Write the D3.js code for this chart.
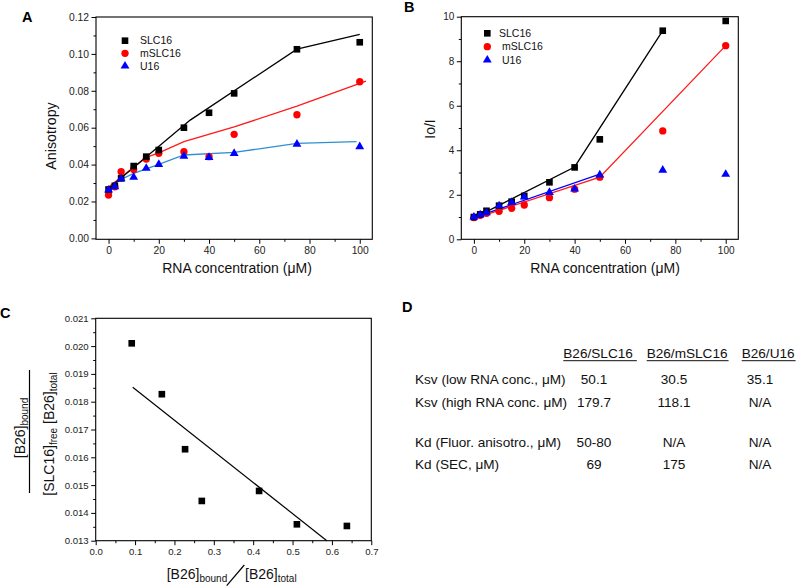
<!DOCTYPE html>
<html><head><meta charset="utf-8">
<script src="https://cdn.jsdelivr.net/npm/d3@7"></script>
<style>body{margin:0;background:#fff}svg{font-family:"Liberation Sans",Arial,Helvetica,sans-serif}</style>
</head><body><svg id="c" width="796" height="587"></svg>
<script>
// ---------- DATA ----------
const concentrations = [0, 2.5, 5, 10, 15, 20, 30, 40, 50, 75, 100];
const seriesNames = ["SLC16", "mSLC16", "U16"];
const seriesColors = ["#000000", "#ff0000", "#0000ff"];
const seriesShapes = ["square", "circle", "triangle"];

// Panel A: anisotropy
const anisoSLC16  = [0.0265, 0.0285, 0.0325, 0.0392, 0.0443, 0.0479, 0.0600, 0.0681, 0.0786, 0.1025, 0.1063];
const anisoMSLC16 = [0.0235, 0.0280, 0.0361, 0.0374, 0.0430, 0.0461, 0.0470, 0.0443, 0.0564, 0.0670, 0.0849];
const anisoU16    = [0.0262, 0.0280, 0.0323, 0.0331, 0.0380, 0.0401, 0.0446, 0.0439, 0.0461, 0.0511, 0.0497];
const fitA_SLC16_x  = [0, 32.5, 75, 100];
const fitA_SLC16_y  = [0.0271, 0.0641, 0.1026, 0.1106];
const fitA_MSLC16_x = [0, 15, 20, 30, 50, 75, 102.5];
const fitA_MSLC16_y = [0.0278, 0.0439, 0.0464, 0.0524, 0.0604, 0.0717, 0.0853];
const fitA_U16_x    = [0, 5, 10, 20, 30, 50, 75, 98.7];
const fitA_U16_y    = [0.0271, 0.0320, 0.0352, 0.0401, 0.0452, 0.0466, 0.0515, 0.0524];

// Panel B: Io/I
const ioSLC16  = [1.00, 1.12, 1.28, 1.51, 1.69, 1.95, 2.56, 3.23, 4.49, 9.37, 9.81];
const ioMSLC16 = [0.98, 1.08, 1.17, 1.26, 1.39, 1.54, 1.87, 2.25, 2.79, 4.87, 8.70];
const ioU16    = [1.00, 1.10, 1.20, 1.50, 1.66, 1.90, 2.11, 2.26, 2.89, 3.11, 2.92];
const fitB_SLC16_x  = [2.5, 40, 75];
const fitB_SLC16_y  = [1.10, 3.25, 9.37];
const fitB_MSLC16_x = [0, 50, 100];
const fitB_MSLC16_y = [0.93, 2.79, 8.70];
const fitB_U16_x    = [0, 50];
const fitB_U16_y    = [0.97, 2.93];

// Panel C: Scatchard
const scatX = [0.0915, 0.168, 0.227, 0.2695, 0.415, 0.511, 0.638];
const scatY = [0.0201, 0.01827, 0.01629, 0.01443, 0.01479, 0.01359, 0.01353];
const scatFitX = [0.094, 0.587];
const scatFitY = [0.01852, 0.013];

// Panel D: table
const tableHeaders = ["B26/SLC16", "B26/mSLC16", "B26/U16"];
const tableRows = ["Ksv (low RNA conc., \u03BCM)", "Ksv (high RNA conc. \u03BCM)", "Kd (Fluor. anisotro., \u03BCM)", "Kd (SEC, \u03BCM)"];
const colSLC16  = ["50.1", "179.7", "50-80", "69"];
const colMSLC16 = ["30.5", "118.1", "N/A", "175"];
const colU16    = ["35.1", "N/A", "N/A", "N/A"];

// Ticks
const concTicks = [0, 20, 40, 60, 80, 100];
const concMinor = [10, 30, 50, 70, 90];
const anisoTicks = [0, 0.02, 0.04, 0.06, 0.08, 0.10, 0.12];
const anisoMinor = [0.01, 0.03, 0.05, 0.07, 0.09, 0.11];
const ioTicks = [0, 2, 4, 6, 8, 10];
const ioMinor = [1, 3, 5, 7, 9];
const scatXTicks = [0, 0.1, 0.2, 0.3, 0.4, 0.5, 0.6, 0.7];
const scatXMinor = [0.05, 0.15, 0.25, 0.35, 0.45, 0.55, 0.65];
const scatYTicks = [0.013, 0.014, 0.015, 0.016, 0.017, 0.018, 0.019, 0.020, 0.021];
const scatYMinor = [0.0135, 0.0145, 0.0155, 0.0165, 0.0175, 0.0185, 0.0195, 0.0205];

// ---------- DRAW ----------
const svg = d3.select("#c");
const FONT = '"Liberation Sans",Arial,Helvetica,sans-serif';

function symbolFor(shape) {
  if (shape === "square") return d3.symbol().type(d3.symbolSquare).size(44)();
  if (shape === "circle") return d3.symbol().type(d3.symbolCircle).size(42)();
  return d3.symbol().type(d3.symbolTriangle).size(34)();
}

function axes(x, y, xT, xM, yT, yM, xf, yf, fs) {
  const r = x.range(), ry = y.range();
  const gx = svg.append("g").attr("transform", `translate(0,${ry[0]})`);
  gx.call(d3.axisBottom(x).tickValues(xT).tickSize(4.5).tickPadding(3).tickFormat(xf));
  gx.call(g => g.append("g").call(d3.axisBottom(x).tickValues(xM).tickSize(2.5).tickFormat("")));
  const gy = svg.append("g").attr("transform", `translate(${r[0]},0)`);
  gy.call(d3.axisLeft(y).tickValues(yT).tickSize(4.5).tickPadding(2.5).tickFormat(yf));
  gy.call(g => g.append("g").call(d3.axisLeft(y).tickValues(yM).tickSize(2.5).tickFormat("")));
  [gx, gy].forEach(g => {
    g.selectAll(".domain").remove();
    g.selectAll("text").attr("font-size", fs).attr("font-family", FONT).attr("fill", "#222");
    g.selectAll("line").attr("stroke", "#000").attr("stroke-width", 1);
  });
  svg.append("rect").attr("x", r[0]).attr("y", ry[1]).attr("width", r[1] - r[0]).attr("height", ry[0] - ry[1])
    .attr("fill", "none").attr("stroke", "#000").attr("stroke-width", 1.1);
}

function fitLine(x, y, xs, ys, color, w) {
  svg.append("path").datum(xs.map((v, i) => [v, ys[i]]))
    .attr("d", d3.line().x(d => x(d[0])).y(d => y(d[1])))
    .attr("fill", "none").attr("stroke", color).attr("stroke-width", w || 1.3);
}

function points(x, y, xs, ys, shape, color) {
  svg.append("g").selectAll("path").data(xs.map((v, i) => [v, ys[i]])).join("path")
    .attr("d", symbolFor(shape))
    .attr("transform", d => `translate(${x(d[0])},${y(d[1])})`)
    .attr("fill", color);
}

function legend(x0, tx, ys, offsets) {
  seriesNames.forEach((n, i) => {
    svg.append("path").attr("d", symbolFor(seriesShapes[i]))
      .attr("transform", `translate(${x0},${ys[i]})`).attr("fill", seriesColors[i]);
    svg.append("text").attr("x", tx + (offsets ? offsets[i] : 0)).attr("y", ys[i]).attr("dy", "0.35em")
      .attr("font-size", 10.5).attr("fill", "#111").text(n);
  });
}

function label(t, x, y) {
  svg.append("text").attr("x", x).attr("y", y).attr("font-size", 14.5).attr("font-weight", "bold").text(t);
}

// ----- Panel A -----
{
  const x = d3.scaleLinear().domain([-5, 105]).range([96, 372.3]);
  const y = d3.scaleLinear().domain([-0.0005, 0.12]).range([239.3, 17]);
  axes(x, y, concTicks, concMinor, anisoTicks, anisoMinor, d3.format("d"), d3.format(".2f"), 10.3);
  fitLine(x, y, fitA_U16_x, fitA_U16_y, "#2f8fd0");
  fitLine(x, y, fitA_MSLC16_x, fitA_MSLC16_y, "#ff1a1a");
  fitLine(x, y, fitA_SLC16_x, fitA_SLC16_y, "#000");
  points(x, y, concentrations, anisoMSLC16, "circle", seriesColors[1]);
  points(x, y, concentrations, anisoSLC16, "square", seriesColors[0]);
  points(x, y, concentrations, anisoU16, "triangle", seriesColors[2]);
  legend(125, 140, [40.7, 53.3, 66]);
  svg.append("text").attr("transform", "translate(56,136) rotate(-90)").attr("text-anchor", "middle")
    .attr("font-size", 14.3).attr("fill", "#111").text("Anisotropy");
  svg.append("text").attr("x", 237).attr("y", 273.3).attr("text-anchor", "middle")
    .attr("font-size", 14).attr("fill", "#111").text("RNA concentration (\u03BCM)");
  label("A", 22, 21.7);
}

// ----- Panel B -----
{
  const x = d3.scaleLinear().domain([-5, 105]).range([461.3, 738.3]);
  const y = d3.scaleLinear().domain([0, 10]).range([239.3, 16.7]);
  axes(x, y, concTicks, concMinor, ioTicks, ioMinor, d3.format("d"), d3.format("d"), 10);
  fitLine(x, y, fitB_U16_x, fitB_U16_y, "#0000ff");
  fitLine(x, y, fitB_MSLC16_x, fitB_MSLC16_y, "#ff1a1a");
  fitLine(x, y, fitB_SLC16_x, fitB_SLC16_y, "#000");
  points(x, y, concentrations, ioMSLC16, "circle", seriesColors[1]);
  points(x, y, concentrations, ioSLC16, "square", seriesColors[0]);
  points(x, y, concentrations, ioU16, "triangle", seriesColors[2]);
  legend(487.3, 499, [33.3, 46.7, 60], [0, 3, 3]);
  svg.append("text").attr("transform", "translate(435,129) rotate(-90)").attr("text-anchor", "middle")
    .attr("font-size", 14).attr("fill", "#111").text("Io/I");
  svg.append("text").attr("x", 605).attr("y", 273.3).attr("text-anchor", "middle")
    .attr("font-size", 14).attr("fill", "#111").text("RNA concentration (\u03BCM)");
  label("B", 404, 11.7);
}

// ----- Panel C -----
{
  const x = d3.scaleLinear().domain([0, 0.7]).range([95.7, 371.3]);
  const y = d3.scaleLinear().domain([0.013, 0.021]).range([540.7, 318.3]);
  axes(x, y, scatXTicks, scatXMinor, scatYTicks, scatYMinor, d3.format(".1f"), d3.format(".3f"), 9.6);
  fitLine(x, y, scatFitX, scatFitY, "#000", 1.2);
  points(x, y, scatX, scatY, "square", "#000");
  // y label as fraction
  const num = svg.append("text").attr("transform", "translate(25,428) rotate(-90)").attr("text-anchor", "middle")
    .attr("font-size", 14).attr("fill", "#111");
  num.append("tspan").text("[B26]");
  num.append("tspan").attr("font-size", 10).attr("dy", 3).text("bound");
  svg.append("line").attr("x1", 29.5).attr("x2", 29.5).attr("y1", 370).attr("y2", 493)
    .attr("stroke", "#000").attr("stroke-width", 1.2);
  const den = svg.append("text").attr("transform", "translate(54,434) rotate(-90)").attr("text-anchor", "middle")
    .attr("font-size", 14).attr("fill", "#111");
  den.append("tspan").text("[SLC16]");
  den.append("tspan").attr("font-size", 10).attr("dy", 3).text("free");
  den.append("tspan").attr("dy", -3).text(" [B26]");
  den.append("tspan").attr("font-size", 10).attr("dy", 3).text("total");
  // x label
  const xl1 = svg.append("text").attr("x", 166.7).attr("y", 578.5).attr("font-size", 14).attr("fill", "#111");
  xl1.append("tspan").text("[B26]");
  xl1.append("tspan").attr("font-size", 10).attr("dy", 3).text("bound");
  svg.append("line").attr("x1", 226.7).attr("y1", 585.7).attr("x2", 244.3).attr("y2", 565)
    .attr("stroke", "#000").attr("stroke-width", 1.2);
  const xl2 = svg.append("text").attr("x", 245).attr("y", 578.5).attr("font-size", 14).attr("fill", "#111");
  xl2.append("tspan").text("[B26]");
  xl2.append("tspan").attr("font-size", 10).attr("dy", 3).text("total");
  label("C", 0, 318);
}

// ----- Panel D -----
{
  label("D", 402, 311.7);
  const fs = 13.6;
  const headerX = [563.3, 646.7, 741.7];
  const headerY = 357.5;
  tableHeaders.forEach((h, i) => {
    const t = svg.append("text").attr("x", headerX[i]).attr("y", headerY).attr("font-size", fs).attr("fill", "#111").text(h);
    const len = t.node().getComputedTextLength();
    svg.append("line").attr("x1", headerX[i]).attr("x2", Math.min(headerX[i] + len + (i === 0 ? 4 : 1), 796))
      .attr("y1", headerY + 3.2).attr("y2", headerY + 3.2).attr("stroke", "#111").attr("stroke-width", 1);
  });
  const rowY = [383.5, 406.5, 446.5, 469];
  const colX = [594, 674, 760];
  const cols = [colSLC16, colMSLC16, colU16];
  tableRows.forEach((r, j) => {
    svg.append("text").attr("x", 415).attr("y", rowY[j]).attr("font-size", fs).attr("fill", "#111").text(r);
    cols.forEach((c, i) => {
      svg.append("text").attr("x", colX[i]).attr("y", rowY[j]).attr("text-anchor", "middle")
        .attr("font-size", fs).attr("fill", "#111").text(c[j]);
    });
  });
}
</script></body></html>
